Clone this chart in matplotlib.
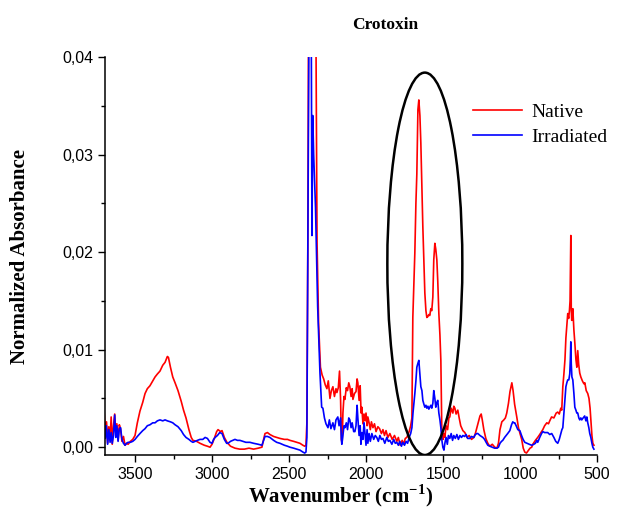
import numpy as np
import matplotlib
matplotlib.use('Agg')
import matplotlib.pyplot as plt
from matplotlib.patches import Ellipse
from matplotlib.ticker import FuncFormatter, MultipleLocator

# espectro nativo (cm-1, absorbancia normalizada)
wn_native = [
    3700, 3692, 3685, 3678, 3670, 3662, 3655, 3648, 3640, 3632, 3625, 3618, 3610, 3602, 3594, 3585,
    3575, 3565, 3555, 3545, 3530, 3515, 3500, 3485, 3468, 3450, 3435, 3420, 3403, 3385, 3370, 3355,
    3338, 3320, 3305, 3290, 3283, 3270, 3255, 3240, 3221, 3200, 3185, 3169, 3150, 3135, 3124, 3100,
    3078, 3050, 3030, 3013, 3000, 2985, 2970, 2961, 2945, 2935, 2920, 2903, 2880, 2851, 2820, 2790,
    2760, 2730, 2700, 2676, 2665, 2656, 2640, 2624, 2600, 2580, 2559, 2530, 2510, 2494, 2470, 2450,
    2429, 2410, 2398, 2390, 2384, 2378, 2372, 2360, 2345, 2332, 2325, 2318, 2308, 2296, 2285, 2275,
    2265, 2254, 2245, 2234, 2225, 2215, 2205, 2195, 2189, 2180, 2172, 2165, 2160, 2155, 2150, 2143,
    2137, 2128, 2120, 2112, 2105, 2097, 2090, 2085, 2075, 2065, 2058, 2053, 2045, 2038, 2032, 2027,
    2020, 2013, 2007, 2000, 1993, 1988, 1980, 1972, 1965, 1955, 1945, 1935, 1923, 1912, 1900, 1890,
    1880, 1870, 1858, 1845, 1830, 1815, 1800, 1790, 1778, 1765, 1755, 1745, 1735, 1720, 1710, 1702,
    1696, 1683, 1676, 1670, 1663, 1657, 1650, 1644, 1637, 1631, 1624, 1618, 1611, 1605, 1598, 1592,
    1586, 1579, 1573, 1566, 1560, 1553, 1547, 1540, 1534, 1527, 1520, 1514, 1508, 1500, 1494, 1488,
    1480, 1470, 1462, 1456, 1447, 1436, 1430, 1423, 1415, 1404, 1395, 1385, 1371, 1358, 1345, 1330,
    1315, 1300, 1290, 1280, 1270, 1260, 1252, 1245, 1235, 1222, 1209, 1196, 1180, 1164, 1150, 1140,
    1130, 1118, 1105, 1095, 1086, 1075, 1065, 1053, 1045, 1035, 1021, 1010, 1000, 989, 979, 969,
    958, 949, 935, 924, 917, 900, 885, 872, 860, 852, 840, 826, 815, 807, 795, 780,
    765, 755, 745, 735, 729, 722, 715, 708, 702, 696, 690, 684, 679, 675, 670, 667,
    664, 660, 657, 650, 644, 637, 631, 625, 619, 612, 605, 595, 585, 579, 570, 560,
    552, 545, 540, 533, 527, 520,
]
abs_native = [
    0.0035, 0.0012, 0.0026, 0.0004, 0.0021, 0.0008, 0.0031, 0.0003, 0.0022, 0.0034, 0.0015, 0.0024, 0.0007, 0.0023, 0.0019, 0.0006,
    0.0011, 0.0002, 0.0004, 0.0003, 0.0006, 0.0008, 0.0012, 0.0025, 0.0037, 0.0046, 0.0055, 0.0060, 0.0063, 0.0068, 0.0072, 0.0075,
    0.0078, 0.0084, 0.0087, 0.0093, 0.0092, 0.0082, 0.0072, 0.0066, 0.0058, 0.0047, 0.0038, 0.0030, 0.0018, 0.0010, 0.0007, 0.0006,
    0.0004, 0.0002, 0.0001, 0.0000, 0.0003, 0.0009, 0.0016, 0.0018, 0.0016, 0.0017, 0.0010, 0.0005, 0.0001, -0.0001, -0.0002, -0.0002,
    -0.0001, -0.0002, -0.0001, 0.0000, 0.0008, 0.0014, 0.0015, 0.0013, 0.0011, 0.0010, 0.0009, 0.0008, 0.0008, 0.0007, 0.0006, 0.0005,
    0.0004, 0.0002, 0.0001, 0.0002, 0.0025, 0.0200, 0.0500, 0.0580, 0.0560, 0.0500, 0.0420, 0.0210, 0.0127, 0.0082, 0.0074, 0.0070,
    0.0064, 0.0060, 0.0068, 0.0050, 0.0058, 0.0062, 0.0052, 0.0060, 0.0056, 0.0061, 0.0078, 0.0048, 0.0008, 0.0004, 0.0035, 0.0052,
    0.0049, 0.0061, 0.0058, 0.0066, 0.0062, 0.0052, 0.0060, 0.0049, 0.0055, 0.0057, 0.0070, 0.0066, 0.0048, 0.0063, 0.0035, 0.0041,
    0.0024, 0.0034, 0.0027, 0.0035, 0.0022, 0.0031, 0.0025, 0.0018, 0.0026, 0.0020, 0.0024, 0.0016, 0.0021, 0.0019, 0.0014, 0.0018,
    0.0012, 0.0017, 0.0010, 0.0014, 0.0008, 0.0012, 0.0006, 0.0010, 0.0002, 0.0007, 0.0003, 0.0009, 0.0010, 0.0016, 0.0022, 0.0030,
    0.0133, 0.0199, 0.0250, 0.0280, 0.0346, 0.0356, 0.0340, 0.0312, 0.0265, 0.0226, 0.0190, 0.0158, 0.0140, 0.0133, 0.0134, 0.0136,
    0.0135, 0.0142, 0.0140, 0.0154, 0.0192, 0.0209, 0.0203, 0.0192, 0.0170, 0.0137, 0.0115, 0.0089, 0.0020, 0.0008, 0.0014, 0.0010,
    0.0022, 0.0018, 0.0030, 0.0031, 0.0040, 0.0035, 0.0042, 0.0040, 0.0034, 0.0038, 0.0030, 0.0022, 0.0017, 0.0015, 0.0010, 0.0012,
    0.0008, 0.0010, 0.0014, 0.0020, 0.0026, 0.0032, 0.0034, 0.0028, 0.0018, 0.0009, 0.0004, 0.0001, 0.0003, 0.0000, -0.0001, 0.0004,
    0.0018, 0.0026, 0.0028, 0.0030, 0.0035, 0.0045, 0.0057, 0.0066, 0.0058, 0.0044, 0.0031, 0.0020, 0.0014, 0.0008, -0.0001, -0.0005,
    -0.0006, -0.0004, -0.0001, 0.0000, 0.0003, 0.0007, 0.0010, 0.0013, 0.0016, 0.0018, 0.0022, 0.0025, 0.0024, 0.0027, 0.0031, 0.0030,
    0.0035, 0.0036, 0.0034, 0.0040, 0.0038, 0.0062, 0.0075, 0.0090, 0.0112, 0.0125, 0.0137, 0.0132, 0.0140, 0.0150, 0.0217, 0.0140,
    0.0130, 0.0138, 0.0142, 0.0120, 0.0107, 0.0090, 0.0082, 0.0099, 0.0085, 0.0076, 0.0072, 0.0068, 0.0065, 0.0066, 0.0058, 0.0055,
    0.0050, 0.0040, 0.0028, 0.0012, 0.0004, 0.0002,
]

# espectro irradiado
wn_irradiated = [
    3700, 3693, 3686, 3678, 3670, 3662, 3655, 3648, 3640, 3632, 3625, 3618, 3610, 3602, 3594, 3585,
    3575, 3565, 3555, 3545, 3530, 3515, 3500, 3485, 3468, 3450, 3435, 3420, 3403, 3385, 3370, 3355,
    3338, 3320, 3305, 3290, 3270, 3255, 3240, 3221, 3200, 3185, 3169, 3150, 3135, 3124, 3110, 3095,
    3078, 3060, 3045, 3030, 3013, 3000, 2990, 2980, 2965, 2950, 2935, 2920, 2905, 2896, 2880, 2865,
    2851, 2835, 2819, 2800, 2780, 2754, 2730, 2700, 2676, 2665, 2656, 2640, 2624, 2600, 2580, 2559,
    2530, 2510, 2494, 2470, 2450, 2429, 2410, 2398, 2390, 2384, 2378, 2370, 2362, 2356, 2351, 2346,
    2340, 2328, 2314, 2299, 2288, 2280, 2270, 2260, 2247, 2238, 2228, 2215, 2205, 2195, 2183, 2175,
    2165, 2160, 2157, 2150, 2143, 2137, 2128, 2120, 2112, 2105, 2097, 2090, 2080, 2072, 2065, 2058,
    2053, 2045, 2038, 2033, 2027, 2020, 2013, 2007, 2000, 1993, 1988, 1980, 1972, 1962, 1950, 1940,
    1930, 1920, 1910, 1900, 1890, 1878, 1865, 1855, 1845, 1832, 1820, 1810, 1800, 1790, 1780, 1770,
    1761, 1750, 1740, 1730, 1720, 1710, 1702, 1695, 1683, 1676, 1670, 1663, 1657, 1650, 1644, 1637,
    1631, 1624, 1618, 1611, 1605, 1598, 1592, 1586, 1579, 1573, 1566, 1560, 1553, 1547, 1540, 1534,
    1527, 1520, 1514, 1508, 1501, 1494, 1488, 1480, 1472, 1465, 1456, 1447, 1438, 1430, 1420, 1410,
    1400, 1390, 1380, 1371, 1360, 1350, 1340, 1326, 1315, 1300, 1290, 1280, 1274, 1260, 1250, 1241,
    1230, 1220, 1209, 1196, 1180, 1165, 1150, 1140, 1130, 1120, 1112, 1100, 1090, 1080, 1066, 1055,
    1047, 1040, 1034, 1025, 1014, 1001, 990, 980, 969, 955, 940, 924, 910, 900, 891, 885,
    872, 860, 852, 840, 830, 820, 807, 794, 780, 768, 755, 745, 735, 728, 722, 715,
    708, 702, 696, 690, 683, 677, 673, 670, 667, 663, 657, 650, 644, 637, 631, 625,
    618, 612, 605, 599, 590, 580, 572, 566, 560, 553, 547, 540, 533, 527, 520,
]
abs_irradiated = [
    0.0026, 0.0009, 0.0022, 0.0003, 0.0018, 0.0005, 0.0015, 0.0004, 0.0012, 0.0033, 0.0010, 0.0022, 0.0006, 0.0019, 0.0020, 0.0008,
    0.0004, 0.0002, 0.0004, 0.0005, 0.0005, 0.0006, 0.0008, 0.0011, 0.0014, 0.0017, 0.0019, 0.0022, 0.0023, 0.0025, 0.0025, 0.0027,
    0.0028, 0.0027, 0.0028, 0.0027, 0.0026, 0.0025, 0.0023, 0.0021, 0.0017, 0.0013, 0.0010, 0.0008, 0.0006, 0.0005, 0.0006, 0.0007,
    0.0008, 0.0008, 0.0010, 0.0009, 0.0005, 0.0004, 0.0008, 0.0010, 0.0012, 0.0015, 0.0014, 0.0008, 0.0004, 0.0004, 0.0006, 0.0007,
    0.0008, 0.0007, 0.0007, 0.0006, 0.0005, 0.0005, 0.0004, 0.0003, 0.0002, 0.0007, 0.0011, 0.0011, 0.0010, 0.0007, 0.0005, 0.0004,
    0.0002, 0.0001, 0.0000, -0.0001, -0.0002, -0.0003, -0.0005, -0.0006, -0.0005, 0.0010, 0.0200, 0.0450, 0.0500, 0.0450, 0.0217, 0.0340,
    0.0300, 0.0246, 0.0144, 0.0076, 0.0041, 0.0040, 0.0030, 0.0024, 0.0020, 0.0028, 0.0019, 0.0025, 0.0018, 0.0028, 0.0031, 0.0022,
    0.0030, 0.0008, 0.0003, 0.0012, 0.0022, 0.0020, 0.0025, 0.0018, 0.0030, 0.0028, 0.0020, 0.0025, 0.0016, 0.0016, 0.0022, 0.0043,
    0.0030, 0.0012, 0.0022, 0.0003, 0.0015, 0.0008, 0.0025, 0.0015, 0.0002, 0.0018, 0.0004, 0.0014, 0.0006, 0.0014, 0.0008, 0.0012,
    0.0010, 0.0006, 0.0012, 0.0008, 0.0009, 0.0004, 0.0010, 0.0006, 0.0007, 0.0003, 0.0008, 0.0004, 0.0005, 0.0002, 0.0006, 0.0001,
    0.0005, 0.0002, 0.0006, 0.0004, 0.0010, 0.0014, 0.0020, 0.0035, 0.0055, 0.0068, 0.0082, 0.0086, 0.0089, 0.0075, 0.0062, 0.0058,
    0.0048, 0.0044, 0.0041, 0.0043, 0.0040, 0.0042, 0.0039, 0.0041, 0.0043, 0.0040, 0.0045, 0.0058, 0.0050, 0.0041, 0.0046, 0.0048,
    0.0035, 0.0028, 0.0020, 0.0008, 0.0000, -0.0003, 0.0004, 0.0010, 0.0003, 0.0012, 0.0009, 0.0014, 0.0007, 0.0012, 0.0009, 0.0013,
    0.0008, 0.0012, 0.0010, 0.0012, 0.0011, 0.0013, 0.0009, 0.0009, 0.0011, 0.0010, 0.0013, 0.0014, 0.0014, 0.0012, 0.0011, 0.0010,
    0.0008, 0.0005, 0.0002, 0.0001, 0.0000, -0.0001, -0.0001, 0.0000, 0.0004, 0.0006, 0.0007, 0.0010, 0.0012, 0.0014, 0.0017, 0.0023,
    0.0026, 0.0025, 0.0025, 0.0022, 0.0018, 0.0017, 0.0012, 0.0008, 0.0005, 0.0004, 0.0003, 0.0002, 0.0003, 0.0004, 0.0007, 0.0005,
    0.0010, 0.0014, 0.0016, 0.0015, 0.0015, 0.0015, 0.0013, 0.0014, 0.0010, 0.0006, 0.0004, 0.0008, 0.0014, 0.0018, 0.0020, 0.0035,
    0.0050, 0.0062, 0.0066, 0.0069, 0.0069, 0.0075, 0.0090, 0.0108, 0.0085, 0.0072, 0.0069, 0.0055, 0.0041, 0.0038, 0.0035, 0.0035,
    0.0030, 0.0028, 0.0030, 0.0028, 0.0030, 0.0032, 0.0027, 0.0031, 0.0025, 0.0020, 0.0014, 0.0010, 0.0004, 0.0000, -0.0002,
]

# elipse destacando a regiao amida (centro, largura, altura em unidades dos eixos)
ellipse_center = (1618, 0.0188)
ellipse_width = 487
ellipse_height = 0.0392

plt.rcParams['font.family'] = ['Liberation Sans', 'DejaVu Sans']
plt.rcParams['mathtext.fontset'] = 'custom'
plt.rcParams['mathtext.rm'] = 'Liberation Serif:bold'
serif = ['Liberation Serif', 'DejaVu Serif']

fig = plt.figure(figsize=(6.22, 5.16), dpi=100)
ax = fig.add_axes([105 / 622, 61 / 516, 492 / 622, 398 / 516])

ax.plot(wn_native, abs_native, color='#ff0000', lw=1.2, label='Native')
ax.plot(wn_irradiated, abs_irradiated, color='#0000ff', lw=1.2, label='Irradiated')

ax.add_patch(Ellipse(ellipse_center, ellipse_width, ellipse_height,
                     fill=False, edgecolor='black', lw=1.8, zorder=5))

ax.set_xlim(3695, 500)
ax.set_ylim(-0.0008, 0.04)

ax.xaxis.set_major_locator(MultipleLocator(500))
ax.xaxis.set_minor_locator(MultipleLocator(250))
ax.yaxis.set_major_locator(MultipleLocator(0.01))
ax.yaxis.set_minor_locator(MultipleLocator(0.005))
ax.yaxis.set_major_formatter(FuncFormatter(lambda v, p: f'{v:.2f}'.replace('.', ',')))

ax.tick_params(which='major', direction='out', length=5, width=1, labelsize=11.5)
ax.tick_params(which='minor', direction='out', length=3, width=1)
for s in ['top', 'right']:
    ax.spines[s].set_visible(False)
for s in ['left', 'bottom']:
    ax.spines[s].set_linewidth(1.1)

# titulo e rotulos posicionados em pixels da figura
fig.text(385 / 622, 1 - 25 / 516, 'Crotoxin', family=serif, weight='bold', fontsize=12.5,
         ha='center', va='center')
fig.text(341 / 622, 1 - 496 / 516, 'Wavenumber (cm$^{\\mathregular{-1}}$)', family=serif,
         weight='bold', fontsize=15, ha='center', va='center')
fig.text(20 / 622, 1 - 257 / 516, 'Normalized Absorbance', family=serif, weight='bold',
         fontsize=15, ha='center', va='center', rotation=90)

leg = ax.legend(loc='upper left', bbox_to_anchor=(0.748, 0.883), frameon=False,
                borderaxespad=0, borderpad=0, handlelength=2.5, handletextpad=0.5,
                labelspacing=0.35, prop={'family': serif, 'size': 14})

fig.savefig('out.png', dpi=100)
